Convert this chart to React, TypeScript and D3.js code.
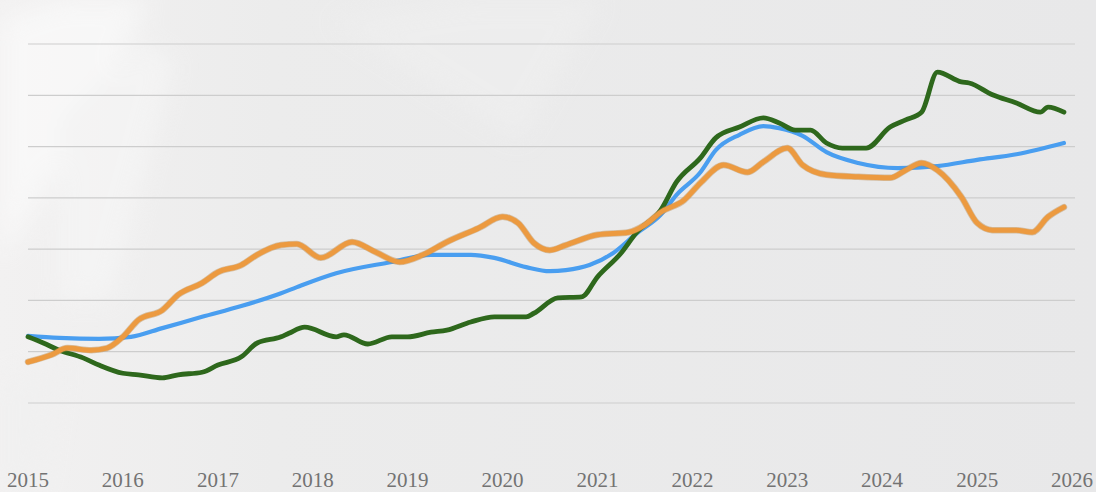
import React from "react";
import * as d3 from "d3";

const WIDTH = 1096;
const HEIGHT = 492;

const yearTicks = ["2015", "2016", "2017", "2018", "2019", "2020", "2021", "2022", "2023", "2024", "2025", "2026"];
const gridValues = [80, 90, 100, 110, 120, 130, 140, 150];

const blueDates = ["2015-01","2015-05","2015-10","2016-02","2016-06","2016-11","2017-04","2017-09","2017-11","2018-04","2018-11","2019-04","2019-09","2019-12","2020-04","2020-07","2020-09","2020-12","2021-03","2021-06","2021-09","2021-11","2022-02","2022-04","2022-07","2022-10","2022-12","2023-03","2023-06","2023-10","2024-03","2024-08","2025-01","2025-06","2025-12"];
const blueValues = [93.1,92.7,92.5,92.9,94.6,96.8,98.9,101.4,102.6,105.3,107.5,108.9,108.9,108.3,106.5,105.7,105.9,106.9,109.2,113.1,116.7,120.6,125.0,129.3,132.3,134.0,133.6,132.1,128.9,126.8,125.8,126.2,127.4,128.5,130.7];

const greenDates = ["2015-01","2015-03","2015-05","2015-08","2015-10","2016-01","2016-03","2016-06","2016-08","2016-11","2017-01","2017-04","2017-06","2017-09","2017-10","2017-12","2018-04","2018-05","2018-08","2018-11","2019-01","2019-04","2019-06","2019-09","2019-12","2020-04","2020-05","2020-08","2020-11","2021-01","2021-04","2021-06","2021-09","2021-11","2022-02","2022-04","2022-07","2022-10","2022-12","2023-02","2023-04","2023-06","2023-08","2023-11","2024-02","2024-04","2024-06","2024-08","2024-11","2024-12","2025-03","2025-06","2025-09","2025-10","2025-12"];
const greenValues = [92.9,91.7,90.3,88.8,87.4,85.8,85.5,84.9,85.5,86.0,87.4,89.0,91.7,92.9,93.6,94.8,92.9,93.3,91.5,92.9,92.9,93.8,94.2,95.8,96.8,96.8,97.5,100.5,100.7,104.6,109.2,113.3,117.6,123.1,127.8,131.7,133.8,135.6,134.6,133.2,133.2,130.7,129.7,129.7,133.8,135.2,136.7,144.5,142.6,142.4,140.1,138.5,136.7,137.7,136.7];

const orangeDates = ["2015-01","2015-04","2015-06","2015-09","2015-11","2016-01","2016-03","2016-06","2016-08","2016-11","2017-01","2017-04","2017-06","2017-09","2017-11","2018-02","2018-06","2018-09","2018-12","2019-03","2019-06","2019-10","2020-01","2020-03","2020-05","2020-07","2020-09","2021-01","2021-05","2021-07","2021-09","2021-12","2022-02","2022-05","2022-08","2022-10","2023-01","2023-03","2023-06","2023-10","2024-02","2024-04","2024-06","2024-08","2024-11","2025-01","2025-03","2025-06","2025-08","2025-10","2025-12"];
const orangeValues = [88.0,89.4,90.7,90.3,90.7,92.9,96.2,98.1,101.1,103.4,105.5,106.9,108.9,110.8,111.0,108.3,111.4,109.4,107.5,108.9,111.4,114.1,116.3,115.1,111.2,109.8,110.8,112.8,113.3,114.7,117.2,119.6,122.9,126.4,125.0,127.0,129.7,126.4,124.5,124.1,123.9,125.4,126.8,125.4,120.2,115.1,113.7,113.7,113.3,116.3,118.2];

type Pt = { date: Date; value: number };
const parse = d3.timeParse("%Y-%m");
const toPoints = (dates: string[], values: number[]): Pt[] =>
  dates.map((d, i) => ({ date: parse(d) as Date, value: values[i] }));

export default function App() {
  const x = d3
    .scaleTime()
    .domain([new Date(2015, 0, 1), new Date(2026, 0, 1)])
    .range([28, 1072]);
  const y = d3.scaleLinear().domain([80, 150]).range([403, 44]);

  const line = d3
    .line<Pt>()
    .x((d) => x(d.date))
    .y((d) => y(d.value))
    .curve(d3.curveMonotoneX);

  const blue = line(toPoints(blueDates, blueValues)) || "";
  const green = line(toPoints(greenDates, greenValues)) || "";
  const orange = line(toPoints(orangeDates, orangeValues)) || "";

  return (
    <svg
      width={WIDTH}
      height={HEIGHT}
      style={{ position: "absolute", left: 0, top: 0, display: "block" }}
    >
      <defs>
        <linearGradient id="bg" x1="0" y1="0" x2="1" y2="0">
          <stop offset="0" stopColor="#f2f1f1" />
          <stop offset="0.25" stopColor="#ececec" />
          <stop offset="1" stopColor="#e8e8e9" />
        </linearGradient>
        <filter id="soft" x="-20%" y="-20%" width="140%" height="140%">
          <feGaussianBlur stdDeviation="12" />
        </filter>
        <filter id="lblur" x="-5%" y="-20%" width="110%" height="140%">
          <feGaussianBlur stdDeviation="0.4" />
        </filter>
      </defs>
      <rect x={0} y={0} width={WIDTH} height={HEIGHT} fill="url(#bg)" />
      <g filter="url(#soft)" opacity={0.7}>
        <polygon points="0,20 60,0 150,0 40,200 0,260" fill="#fbfbfb" />
        <polygon points="60,120 140,40 175,60 110,300 60,300" fill="#f6f6f6" />
        <polygon points="0,380 60,360 40,492 0,492" fill="#f0f0f0" />
        <polygon points="330,20 470,0 600,0 520,140" fill="#efefef" />
      </g>
      {gridValues.map((v) => (
        <line
          key={v}
          x1={28}
          x2={1075}
          y1={y(v)}
          y2={y(v)}
          stroke="#cdcdcd"
          strokeWidth={1.2}
        />
      ))}
      <g filter="url(#lblur)">
        <path d={blue} fill="none" stroke="#4a9ef0" strokeWidth={4.2} strokeLinejoin="round" strokeLinecap="round" />
        <path d={green} fill="none" stroke="#2d681d" strokeWidth={4.8} strokeLinejoin="round" strokeLinecap="round" />
        <path d={orange} fill="none" stroke="#b98546" strokeWidth={6.5} strokeLinejoin="round" strokeLinecap="round" opacity={0.45} />
        <path d={orange} fill="none" stroke="#ec9a3f" strokeWidth={5} strokeLinejoin="round" strokeLinecap="round" />
      </g>
      {yearTicks.map((t) => (
        <text
          key={t}
          x={x(new Date(+t, 0, 1))}
          y={487}
          textAnchor="middle"
          fontFamily="'Liberation Serif', 'DejaVu Serif', serif"
          fontSize={21}
          fill="#737373"
        >
          {t}
        </text>
      ))}
    </svg>
  );
}
